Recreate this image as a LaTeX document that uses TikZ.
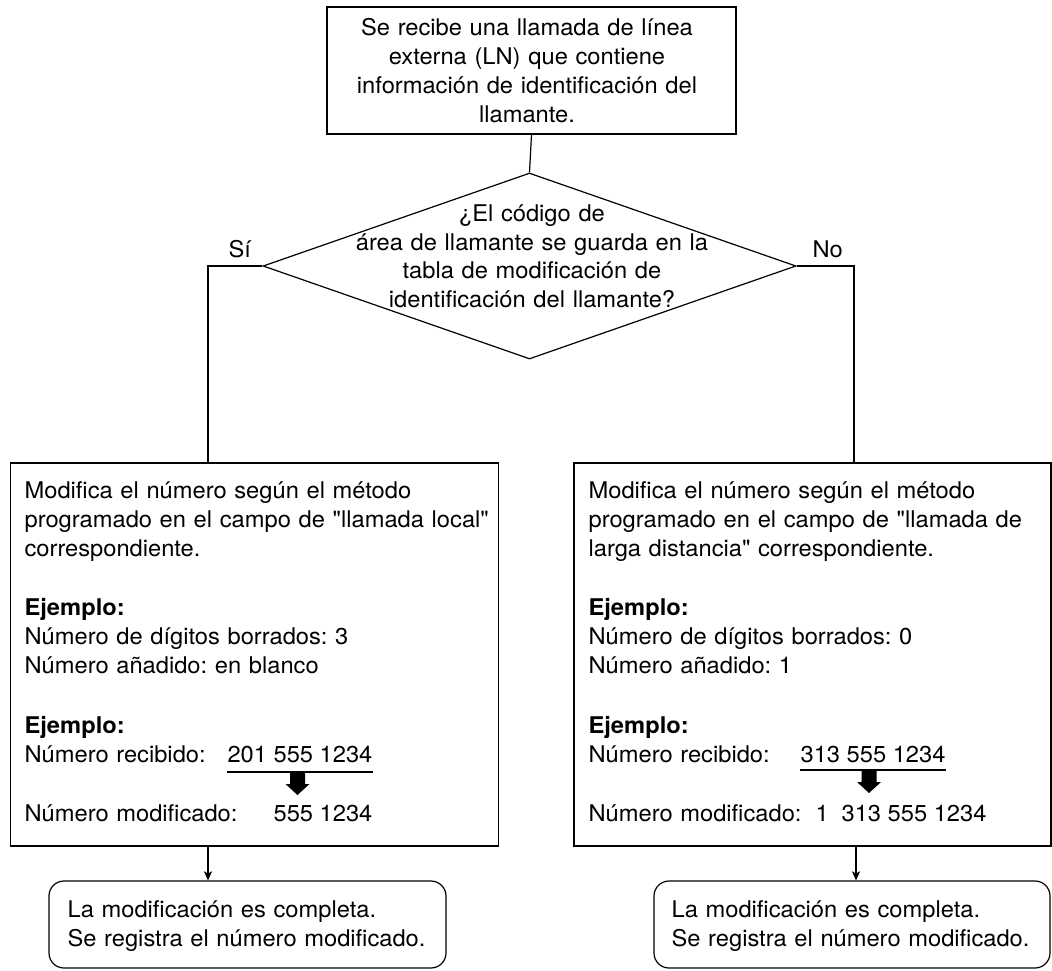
\documentclass[tikz,border=0pt]{standalone}
\usepackage{fontspec}
\setmainfont{TeX Gyre Heros}[FakeStretch=1.03,Ligatures=TeXOff]
\usetikzlibrary{arrows.meta,shapes.geometric}
\begin{document}
\frenchspacing
\begin{tikzpicture}[x=1pt,y=-1pt,line width=1.2pt,
  every node/.style={font=\fontsize{23}{29.3}\selectfont\frenchspacing},
  box/.style={draw,rectangle,inner sep=0pt},
  endbox/.style={draw,rectangle,rounded corners=15pt,inner sep=0pt},
  para/.style={inner sep=0pt,anchor=base west,align=left,text width=480pt},
  ctext/.style={inner sep=0pt,anchor=base,align=center,text width=460pt},
  num/.style={inner sep=0pt},
  lbl/.style={inner sep=0pt,anchor=base west},
  arr/.style={-{Stealth[length=9pt,width=8pt,inset=2pt]}},
  uline/.style={line width=2pt}]
\useasboundingbox (0,0) rectangle (1052,970);

% start box
\node[box,minimum width=409pt,minimum height=127pt] (start) at (531.5,70.5) {};
\node[ctext] (starttext) at (527,35) {Se recibe una llamada de línea\\externa (LN) que contiene\\información de identificación del\\llamante.};

% decision
\node[draw,diamond,minimum width=533pt,minimum height=186pt,inner sep=0pt] (dec) at (529.5,266) {};
\node[ctext,font=\fontsize{23}{28.5}\selectfont] (dectext) at (532,221.5) {¿El código de\\área de llamante se guarda en la\\tabla de modificación de\\identificación del llamante?};
\node[lbl] (si) at (228,257) {Sí};
\node[lbl] (no) at (812,257) {No};

% process boxes
\node[box,minimum width=487.8pt,minimum height=383pt] (lbox) at (254.6,654.5) {};
\node[box,minimum width=477pt,minimum height=383pt] (rbox) at (812.5,654.5) {};

% end boxes
\node[endbox,minimum width=397pt,minimum height=87pt] (lend) at (247.5,924.5) {};
\node[endbox,minimum width=396pt,minimum height=87pt] (rend) at (852,924.5) {};

% connectors
\coordinate (lturn) at (208,266);
\coordinate (rturn) at (854,266);
\coordinate (rdown) at (856,900);
\draw (start.south) -- (dec.north);
\draw (dec.west) -- (lturn) -- (lturn |- lbox.north);
\draw (dec.east) -- (rturn) -- (rturn |- rbox.north);
\draw[arr] (lbox.south -| lturn) -- (lend.north -| lturn);
\draw[arr] (rbox.south -| rdown) -- (rend.north -| rdown);

% left box text
\node[para] (lp1) at (24,498) {Modifica el número según el método\\programado en el campo de "llamada local"\\correspondiente.};
\node[para] (lp2) at (24,615) {\textbf{Ejemplo:}\\Número de dígitos borrados: 3\\Número añadido: en blanco};
\node[para] (lp3) at (24,733) {\textbf{Ejemplo:}\\Número recibido:};
\node[para] (lp4) at (24,821) {Número modificado:};
\node[num,anchor=base east] (lrec) at (373,762) {201 555 1234};
\node[num,anchor=base east] (lmod) at (373,821) {555 1234};
\draw[uline] ([yshift=-9.5pt]lrec.base west) -- ([yshift=-9.5pt]lrec.base east);
\coordinate (lfat) at (297.5,773);
\fill (lfat) ++(-7.5,0) -- ++(15,0) -- ++(0,11) -- ++(4.5,0) -- ++(-12,11) -- ++(-12,-11) -- ++(4.5,0) -- cycle;

% right box text
\node[para] (rp1) at (588,498) {Modifica el número según el método\\programado en el campo de "llamada de\\larga distancia" correspondiente.};
\node[para] (rp2) at (588,615) {\textbf{Ejemplo:}\\Número de dígitos borrados: 0\\Número añadido: 1};
\node[para] (rp3) at (588,733) {\textbf{Ejemplo:}\\Número recibido:};
\node[para] (rp4) at (588,821) {Número modificado:};
\node[num,anchor=base west] (rrec) at (800,762) {313 555 1234};
\node[num,anchor=base west] (rone) at (815,821) {1};
\node[num,anchor=base west] (rmod) at (841,821) {313 555 1234};
\draw[uline] ([yshift=-7.5pt]rrec.base west) -- ([yshift=-7.5pt]rrec.base east);
\coordinate (rfat) at (869,771);
\fill (rfat) ++(-7.5,0) -- ++(15,0) -- ++(0,11) -- ++(4.5,0) -- ++(-12,11) -- ++(-12,-11) -- ++(4.5,0) -- cycle;

% end texts
\node[para] (lendtext) at (67,917) {La modificación es completa.\\Se registra el número modificado.};
\node[para] (rendtext) at (671,917) {La modificación es completa.\\Se registra el número modificado.};
\end{tikzpicture}
\end{document}
